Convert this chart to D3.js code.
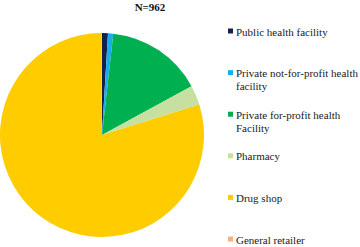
<!DOCTYPE html>
<html lang="en">
<head>
	<meta charset="UTF-8"/>
	<title>Source of care pie</title>
	<script src="https://d3js.org/d3.v7.min.js"></script>
	<style>
		body { margin: 0; background: #fff; }
	</style>
</head>
<body>
	<script>
		var w = 360;
		var h = 247;

		// data
		var categories = ["Public health facility", "Private not-for-profit health facility",
			"Private for-profit health Facility", "Pharmacy", "Drug shop", "General retailer"];
		var counts = [9, 8, 147, 30, 767, 1];
		var colours = ["#14214f", "#18adec", "#00b050", "#c5e0a0", "#ffcc00", "#f4b183"];
		// legend labels split over lines as in the picture
		var labelLines = [["Public health facility"], ["Private not-for-profit health", "facility"],
			["Private for-profit health", "Facility"], ["Pharmacy"], ["Drug shop"], ["General retailer"]];
		var title = "N=962";

		var cx = 102, cy = 135, r = 102;
		var serif = "'Liberation Serif', 'Times New Roman', serif";

		var svg = d3.select("body")
					.append("svg")
					.attr("width", w)
					.attr("height", h);

		var pie = d3.pie().sort(null).value(function(d){ return d; });
		var arc = d3.arc().innerRadius(0).outerRadius(r);

		svg.append("g")
			.attr("transform", "translate(" + cx + "," + cy + ")")
			.selectAll("path")
			.data(pie(counts))
			.enter()
			.append("path")
			.attr("d", arc)
			.attr("fill", function(d, i){ return colours[i]; });

		svg.append("text")
			.attr("x", 150)
			.attr("y", 10.5)
			.attr("text-anchor", "middle")
			.attr("font-family", serif)
			.attr("font-size", 11)
			.attr("font-weight", "bold")
			.attr("fill", "#111")
			.text(title);

		// legend
		var legend = svg.append("g");
		var legendY = d3.scalePoint().domain(d3.range(categories.length)).range([32, 240]);

		var items = legend.selectAll("g")
			.data(categories)
			.enter()
			.append("g")
			.attr("transform", function(d, i){ return "translate(228," + legendY(i) + ")"; });

		items.append("rect")
			.attr("x", 0)
			.attr("y", -3.5)
			.attr("width", 5)
			.attr("height", 5)
			.attr("fill", function(d, i){ return colours[i]; });

		items.append("text")
			.attr("font-family", serif)
			.attr("font-size", 11)
			.attr("fill", "#1a1a1a")
			.attr("y", 3.5)
			.selectAll("tspan")
			.data(function(d, i){ return labelLines[i]; })
			.enter()
			.append("tspan")
			.attr("x", 8)
			.attr("dy", function(d, j){ return j === 0 ? 0 : 13; })
			.text(function(d){ return d; });
	</script>
</body>
</html>
